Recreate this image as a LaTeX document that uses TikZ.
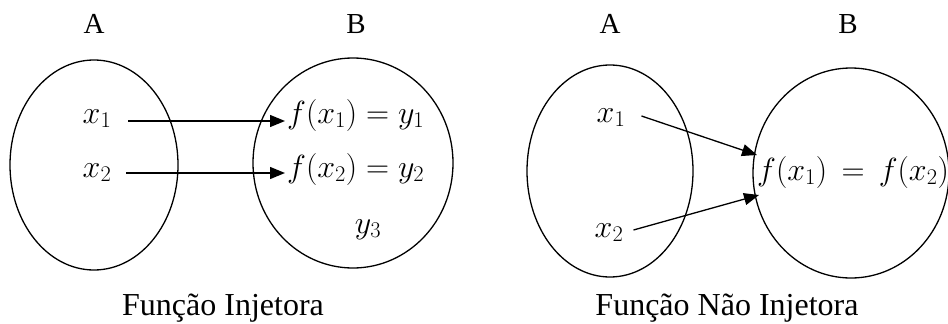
\RequirePackage{fix-cm}
\documentclass[tikz,border=0pt]{standalone}
\usepackage{amsmath}
\usepackage{fontspec}
\setmainfont{Liberation Serif}
\usepackage{tikz}
\usetikzlibrary{arrows.meta, calc}
\tikzset{
  set/.style={line width=1.3pt},
  setname/.style={anchor=base, font=\fontsize{29}{34}\selectfont},
  elem/.style={anchor=base, inner sep=2pt, font=\fontsize{32}{38}\selectfont},
  caption/.style={anchor=base, font=\fontsize{32}{38}\selectfont},
  maparrow/.style={line width=1.3pt, -{Triangle[length=15pt, width=12pt]}},
}

\begin{document}
\begin{tikzpicture}[x=1pt, y=-1pt]
  \useasboundingbox (0,0) rectangle (948,324);
  % --- injective function ---
  % sets
  \draw[set] (94,165) ellipse (84 and 105);
  \draw[set] (353,163) ellipse (100 and 105);
  \node[setname] (A1) at (94,33) {A};
  \node[setname] (B1) at (356,33) {B};
  % elements
  \node[elem] (x11) at (97,123) {$x_1$};
  \node[elem] (x21) at (97,177) {$x_2$};
  \node[elem, anchor=base west] (fy1) at (285,123) {$f(x_1)=y_1$};
  \node[elem, anchor=base west] (fy2) at (285,177) {$f(x_2)=y_2$};
  \node[elem] (y3) at (368,233) {$y_3$};
  % arrows
  \draw[maparrow] ($(x11.base east)+(15,-2)$) -- ($(fy1.base west)+(0,-2)$);
  \draw[maparrow] ($(x21.base east)+(13,-4)$) -- ($(fy2.base west)+(0,-4)$);
  \node[caption] (cap1) at (223,315) {Função Injetora};
  % --- non injective function ---
  % sets
  \draw[set] (610,171) ellipse (83 and 106);
  \draw[set] (851,173) ellipse (98 and 105);
  \node[setname] (A2) at (610,33) {A};
  \node[setname] (B2) at (848,33) {B};
  % elements
  \node[elem] (x12) at (611,122) {$x_1$};
  \node[elem] (x22) at (609,237) {$x_2$};
  \node[elem, anchor=base west] (fx) at (755,180) {$f(x_1)\,=\,f(x_2)$};
  \coordinate (in1) at ($(fx.base west)+(2,-25)$);
  \coordinate (in2) at ($(fx.base west)+(4,15)$);
  % arrows
  \draw[maparrow] ($(x12.base east)+(14,-6)$) -- (in1);
  \draw[maparrow] ($(x22.base east)+(8,-7)$) -- (in2);
  \node[caption] (cap2) at (727,315) {Função Não Injetora};
\end{tikzpicture}
\end{document}
